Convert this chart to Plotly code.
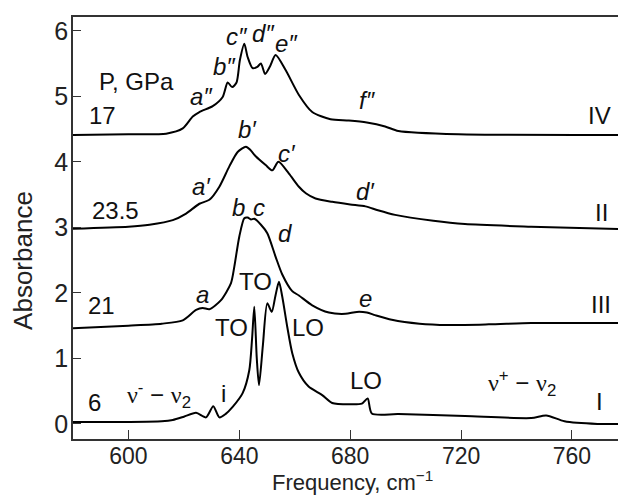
import plotly.graph_objects as go

# ---- data ----
freq_I = [580, 600, 612, 616, 620, 624.4, 628, 630.6, 632.8, 635, 637.6, 641.2, 643.6, 644.6, 645.4,
          646.3, 647.1, 648.5, 650.1, 651.7, 653, 654.3, 655.5, 657.3, 659.1, 661.5, 665, 669.9, 673.5,
          680, 684.2, 686.3, 687.8, 697.4, 721.4, 745.3, 750.7, 757.3, 769.2, 779.5]
abs_I = [0.03, 0.03, 0.04, 0.06, 0.11, 0.17, 0.10, 0.27, 0.10, 0.15, 0.26, 0.47, 0.82, 1.30, 1.79,
         1.00, 0.59, 1.20, 1.84, 1.71, 1.95, 2.17, 1.94, 1.48, 1.08, 0.78, 0.57, 0.44, 0.32,
         0.30, 0.31, 0.39, 0.16, 0.15, 0.12, 0.09, 0.13, 0.04, 0.00, 0.00]

freq_III = [580, 600, 612, 619.6, 624.4, 626.8, 629.2, 633.4, 637, 638.2, 640, 641.8, 643, 644.2, 645.4,
            647.8, 650.1, 653.1, 655.5, 659, 661.5, 666.3, 672.3, 678.3, 682.4, 686, 689, 695, 705,
            715.4, 730, 745.3, 760, 779.5]
abs_III = [1.46, 1.50, 1.53, 1.58, 1.74, 1.77, 1.75, 1.89, 2.15, 2.40, 2.86, 3.14, 3.15, 3.12, 3.13,
           3.04, 2.91, 2.55, 2.28, 2.03, 1.96, 1.81, 1.70, 1.68, 1.71, 1.70, 1.66, 1.59, 1.53,
           1.51, 1.52, 1.54, 1.54, 1.54]

freq_II = [580, 600, 607.6, 616, 620.8, 625.6, 629.2, 632.8, 636.4, 639.4, 642.4, 644, 646, 649.5,
           651.9, 654.1, 657.9, 661.5, 664, 667.5, 673.5, 680, 685.5, 690, 696.2, 710, 721.4, 745.3, 779.5]
abs_II = [2.98, 3.01, 3.04, 3.11, 3.21, 3.36, 3.42, 3.62, 3.93, 4.15, 4.23, 4.18, 4.08, 3.95,
          3.87, 4.00, 3.82, 3.62, 3.52, 3.44, 3.39, 3.35, 3.32, 3.26, 3.19, 3.10, 3.05, 3.01, 2.97]

freq_IV = [580, 600, 613.6, 619.6, 623.2, 625.6, 630.4, 634, 635.8, 637.4, 639, 640.2, 641.8, 643,
           644.8, 646.5, 647.8, 649.3, 651, 653.1, 656.7, 661.5, 666.3, 672.9, 679.5, 686, 692.6,
           697.4, 719, 779.5]
abs_IV = [4.41, 4.42, 4.43, 4.51, 4.69, 4.76, 4.85, 4.99, 5.21, 5.14, 5.21, 5.55, 5.80, 5.60,
          5.43, 5.45, 5.50, 5.34, 5.45, 5.63, 5.40, 5.02, 4.76, 4.65, 4.63, 4.60, 4.54,
          4.47, 4.42, 4.41]

x_ticks = [600, 640, 680, 720, 760]
y_ticks = [0, 1, 2, 3, 4, 5, 6]

NU = "<span style=\"font-family:Liberation Serif\">ν</span>"

# labels: (text, x, y, italic)
labels = [
    ("P, GPa", 603.0, 5.22, False),
    ("17", 590.8, 4.71, False),
    ("23.5", 595.3, 3.26, False),
    ("21", 590.3, 1.80, False),
    ("6", 587.7, 0.33, False),
    ("IV", 770.0, 4.71, False),
    ("II", 770.5, 3.23, False),
    ("III", 770.3, 1.83, False),
    ("I", 769.8, 0.34, False),
    ("TO", 645.7, 2.18, False),
    ("TO", 637.0, 1.47, False),
    ("LO", 664.7, 1.47, False),
    ("LO", 685.7, 0.67, False),
    ("i", 634.2, 0.47, False),
    ("a″", 626.3, 4.99, True),
    ("b″", 634.6, 5.45, True),
    ("c″", 639.2, 5.92, True),
    ("d″", 648.9, 5.96, True),
    ("e″", 657.2, 5.80, True),
    ("f″", 686.3, 4.93, True),
    ("a′", 626.3, 3.63, True),
    ("b′", 642.8, 4.49, True),
    ("c′", 657.2, 4.12, True),
    ("d′", 685.6, 3.55, True),
    ("a", 626.7, 1.97, True),
    ("b", 639.6, 3.31, True),
    ("c", 647.1, 3.30, True),
    ("d", 656.5, 2.91, True),
    ("e", 685.6, 1.91, True),
]

FONT = "Liberation Sans, Arial, sans-serif"
AFS = 24

fig = go.Figure()
for fx, fy in [(freq_I, abs_I), (freq_III, abs_III), (freq_II, abs_II), (freq_IV, abs_IV)]:
    fig.add_trace(go.Scatter(x=fx, y=fy, mode="lines",
                             line=dict(color="black", width=2, shape="spline", smoothing=0.7),
                             showlegend=False, hoverinfo="skip"))

annotations = []
for text, x, y, it in labels:
    annotations.append(dict(x=x, y=y, xref="x", yref="y", showarrow=False,
                            text=text, xanchor="center", yanchor="middle",
                            font=dict(family=FONT, size=AFS, color="#111",
                                      style="italic" if it else "normal")))
annotations.append(dict(x=610.9, y=0.44, xref="x", yref="y", showarrow=False,
                        text=NU + "<sup>-</sup> − " + NU + "<sub>2</sub>",
                        xanchor="center", yanchor="middle",
                        font=dict(family=FONT, size=AFS, color="#111")))
annotations.append(dict(x=742.1, y=0.63, xref="x", yref="y", showarrow=False,
                        text=NU + "<sup>+</sup> − " + NU + "<sub>2</sub>",
                        xanchor="center", yanchor="middle",
                        font=dict(family=FONT, size=AFS, color="#111")))
# axis titles
annotations.append(dict(x=0.506, y=0, xref="paper", yref="paper", showarrow=False,
                        text="Frequency, cm<sup>−1</sup>", xanchor="center", yanchor="bottom",
                        yshift=-58, font=dict(family=FONT, size=22, color="#222")))
annotations.append(dict(x=0, y=0.422, xref="paper", yref="paper", showarrow=False,
                        text="Absorbance", textangle=-90, xanchor="center", yanchor="middle",
                        xshift=-50, font=dict(family=FONT, size=26, color="#222")))

# the page body keeps an 8px default margin, so the figure is sized to fit the window
fig.update_layout(
    width=618, height=488,
    margin=dict(l=65, r=0, t=9, b=57),
    paper_bgcolor="white", plot_bgcolor="white",
    font=dict(family=FONT, size=24, color="#222"),
    annotations=annotations,
    xaxis=dict(range=[580, 779.5], tickvals=x_ticks, ticks="inside", ticklen=9, tickwidth=1,
               tickcolor="#333", showline=True, linecolor="#333", linewidth=1.5, mirror=True,
               showgrid=False, zeroline=False, ticklabelstandoff=-4, automargin=False,
               tickfont=dict(size=23)),
    yaxis=dict(range=[-0.23, 6.21], tickvals=y_ticks, ticks="inside", ticklen=8, tickwidth=1,
               tickcolor="#333", showline=True, linecolor="#333", linewidth=1.5,
               showgrid=False, zeroline=False, ticklabelstandoff=-2, automargin=False,
               tickfont=dict(size=25)),
)

fig.write_html("out.html")
